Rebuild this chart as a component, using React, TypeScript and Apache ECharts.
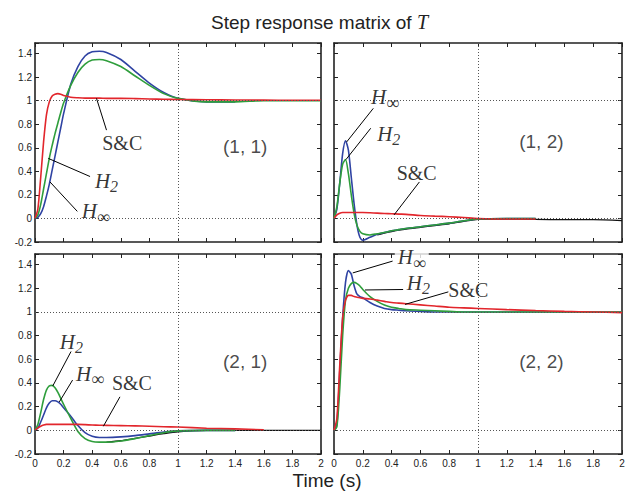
import React, { useEffect, useRef } from 'react';
import * as echarts from 'echarts';

// ---------------- data ----------------
const TIME = [0, 0.02, 0.04, 0.06, 0.08, 0.1, 0.12, 0.14, 0.16, 0.18, 0.2, 0.25, 0.3, 0.35, 0.4, 0.45, 0.5, 0.6, 0.7, 0.8, 0.9, 1.0, 1.2, 1.4, 1.6, 1.8, 2.0];

const X_TICKS = [0, 0.2, 0.4, 0.6, 0.8, 1, 1.2, 1.4, 1.6, 1.8, 2];
const Y_TICKS = [-0.2, 0, 0.2, 0.4, 0.6, 0.8, 1, 1.2, 1.4];

// (1,1)
const T11_HINF = [0, 0.01, 0.04, 0.10, 0.19, 0.29, 0.41, 0.53, 0.65, 0.77, 0.89, 1.14, 1.29, 1.38, 1.415, 1.42, 1.41, 1.35, 1.25, 1.15, 1.07, 1.02, 0.99, 0.99, null, null, null];
const T11_H2 = [0, 0.03, 0.12, 0.25, 0.38, 0.51, 0.62, 0.72, 0.81, 0.90, 0.98, 1.13, 1.24, 1.31, 1.345, 1.35, 1.34, 1.29, 1.21, 1.13, 1.06, 1.02, 0.99, 0.99, 1.0, 1.0, 1.0];
const T11_SC = [0, 0.08, 0.35, 0.65, 0.88, 0.99, 1.04, 1.055, 1.06, 1.055, 1.045, 1.03, 1.025, 1.022, 1.022, 1.022, 1.02, 1.02, 1.018, 1.015, 1.012, 1.01, 1.008, 1.006, 1.005, 1.004, 1.004];

// (1,2)
const T12_HINF = [0, 0.08, 0.3, 0.55, 0.66, 0.58, 0.35, 0.12, -0.06, -0.16, -0.185, -0.16, -0.135, -0.12, -0.105, -0.095, -0.085, -0.07, -0.055, -0.04, -0.02, -0.005, 0, 0, null, null, null];
const T12_H2 = [0, 0.1, 0.3, 0.46, 0.5, 0.38, 0.2, 0.04, -0.06, -0.11, -0.13, -0.14, -0.13, -0.12, -0.105, -0.095, -0.085, -0.07, -0.055, -0.04, -0.02, -0.005, 0, 0, null, null, null];
const T12_SC = [0, 0.03, 0.045, 0.05, 0.05, 0.05, 0.05, 0.05, 0.05, 0.05, 0.05, 0.048, 0.045, 0.042, 0.04, 0.037, 0.035, 0.025, 0.02, 0.015, 0.008, 0.0, -0.005, -0.005, null, null, null];
const T12_REF = [null, null, null, null, null, null, null, null, null, null, null, null, -0.14, -0.125, -0.112, -0.1, -0.09, -0.075, -0.06, -0.045, -0.025, -0.008, -0.005, -0.008, -0.01, -0.01, -0.018];

// (2,1)
const T21_HINF = [0, 0.02, 0.07, 0.13, 0.19, 0.23, 0.25, 0.25, 0.24, 0.22, 0.19, 0.12, 0.04, -0.02, -0.05, -0.06, -0.06, -0.055, -0.045, -0.03, -0.015, -0.005, 0, 0, null, null, null];
const T21_H2 = [0, 0.05, 0.15, 0.26, 0.34, 0.375, 0.38, 0.36, 0.32, 0.27, 0.22, 0.1, -0.01, -0.07, -0.095, -0.1, -0.1, -0.09, -0.07, -0.045, -0.02, -0.005, 0, 0, null, null, null];
const T21_SC = [0, 0.02, 0.035, 0.045, 0.05, 0.05, 0.05, 0.05, 0.05, 0.05, 0.05, 0.05, 0.05, 0.048, 0.045, 0.043, 0.042, 0.04, 0.038, 0.035, 0.03, 0.028, 0.018, 0.012, 0.005, null, null];
const T21_REF = [null, null, null, null, null, null, null, null, null, null, null, null, null, null, null, null, -0.1, -0.088, -0.068, -0.048, -0.028, -0.012, 0, 0, 0, 0, 0];

// (2,2)
const T22_HINF = [0, 0.05, 0.5, 0.95, 1.25, 1.35, 1.32, 1.22, 1.15, 1.13, 1.12, 1.08, 1.05, 1.03, 1.02, 1.015, 1.01, 1.005, 1.0, 1.0, 1.0, 1.0, 1.0, 1.0, 1.0, 1.0, 1.0];
const T22_H2 = [0, 0.03, 0.35, 0.8, 1.1, 1.2, 1.24, 1.25, 1.24, 1.22, 1.19, 1.13, 1.09, 1.06, 1.04, 1.03, 1.02, 1.015, 1.01, 1.005, 1.0, 1.0, 1.0, 1.0, 1.0, 1.0, 1.0];
const T22_SC = [0, 0.1, 0.55, 0.95, 1.1, 1.14, 1.14, 1.13, 1.125, 1.12, 1.115, 1.11, 1.1, 1.09, 1.08, 1.075, 1.07, 1.06, 1.05, 1.04, 1.035, 1.03, 1.02, 1.012, 1.005, 1.0, 0.995];

const PANEL_NAMES = ['(1, 1)', '(1, 2)', '(2, 1)', '(2, 2)'];
const HINF = [T11_HINF, T12_HINF, T21_HINF, T22_HINF];
const H2 = [T11_H2, T12_H2, T21_H2, T22_H2];
const SC = [T11_SC, T12_SC, T21_SC, T22_SC];
const REF = [null, T12_REF, T21_REF, null];

// ---------------- layout ----------------
const GRIDS = [
  { left: 35, top: 43, width: 286, height: 199 },
  { left: 334, top: 43, width: 288, height: 199 },
  { left: 35, top: 254, width: 286, height: 200 },
  { left: 334, top: 254, width: 288, height: 200 },
];
const Y_MAX = 1.49;

// annotation layout in data coordinates: [textT, textV, fromT, fromV, toT, toV]
const ANNOT_POS: Record<string, number[]>[] = [
  { sc: [0.61, 0.64, 0.43, 1.02, 0.5, 0.75], h2: [0.5, 0.32, 0.093, 0.51, 0.385, 0.356], hinf: [0.425, 0.06, 0.105, 0.31, 0.296, 0.06] },
  { sc: [0.574, 0.385, 0.417, 0.03, 0.593, 0.31], h2: [0.38, 0.72, 0.083, 0.5, 0.255, 0.766], hinf: [0.354, 1.03, 0.088, 0.65, 0.273, 0.935] },
  { sc: [0.678, 0.397, 0.478, 0.034, 0.594, 0.283], h2: [0.254, 0.746, 0.124, 0.374, 0.252, 0.666], hinf: [0.385, 0.477, 0.17, 0.24, 0.263, 0.425] },
  { sc: [0.933, 1.19, 0.493, 1.064, 0.794, 1.17], h2: [0.586, 1.245, 0.215, 1.186, 0.48, 1.19], hinf: [0.54, 1.462, 0.13, 1.33, 0.407, 1.43] },
];
const PANEL_LABEL_POS = [[1.47, 0.61], [1.44, 0.65], [1.47, 0.58], [1.44, 0.58]];

const BLUE = '#2f43a3';
const GREEN = '#2f9e3c';
const RED = '#e2262c';
const AX = '#222';
const SANS = 'Liberation Sans, Arial, sans-serif';
const SERIF = 'Liberation Serif, Times New Roman, serif';

const fmt = (v: number) => String(Number(v.toFixed(1)));

function toPairs(arr: (number | null)[]) {
  const out: number[][] = [];
  TIME.forEach((t, i) => {
    const v = arr[i];
    if (v !== null && v !== undefined) out.push([t, v]);
  });
  return out;
}

function buildOption() {
  const xAxis: any[] = [];
  const yAxis: any[] = [];
  const series: any[] = [];

  GRIDS.forEach((_, g) => {
    const baseX = {
      type: 'value',
      gridIndex: g,
      min: X_TICKS[0],
      max: X_TICKS[X_TICKS.length - 1],
      interval: 0.2,
      axisLine: { show: true, onZero: false, lineStyle: { color: AX, width: 1.6 } },
      axisTick: { show: true, inside: true, length: 4, lineStyle: { color: AX, width: 1 } },
      splitLine: { show: false },
    };
    xAxis.push({
      ...baseX,
      position: 'bottom',
      axisLabel: {
        show: g >= 2,
        fontSize: 10,
        color: AX,
        fontFamily: SANS,
        margin: 4,
        formatter: (v: number) => (X_TICKS.some((t) => Math.abs(t - v) < 1e-6) ? fmt(v) : ''),
      },
    });
    xAxis.push({ ...baseX, position: 'top', axisLabel: { show: false } });

    const baseY = {
      type: 'value',
      gridIndex: g,
      min: Y_TICKS[0],
      max: Y_MAX,
      interval: 0.2,
      axisLine: { show: true, onZero: false, lineStyle: { color: AX, width: 1.6 } },
      axisTick: { show: true, inside: true, length: 4, lineStyle: { color: AX, width: 1 } },
      splitLine: { show: false },
    };
    yAxis.push({
      ...baseY,
      position: 'left',
      axisLabel: {
        show: g % 2 === 0,
        fontSize: 10,
        color: AX,
        fontFamily: SANS,
        margin: 3,
        formatter: (v: number) => (Y_TICKS.some((t) => Math.abs(t - v) < 1e-6) ? fmt(v) : ''),
      },
    });
    yAxis.push({ ...baseY, position: 'right', axisLabel: { show: false } });

    const xi = g * 2;
    const yi = g * 2;

    // reference dotted lines
    series.push({
      type: 'line',
      xAxisIndex: xi,
      yAxisIndex: yi,
      data: [],
      silent: true,
      markLine: {
        silent: true,
        symbol: ['none', 'none'],
        label: { show: false },
        lineStyle: { type: [1, 2], color: '#555', width: 1 },
        data: [{ yAxis: 0 }, { yAxis: 1 }, { xAxis: 1 }],
      },
    });

    const ref = REF[g];
    if (ref) {
      series.push({
        type: 'line', xAxisIndex: xi, yAxisIndex: yi, data: toPairs(ref), showSymbol: false,
        smooth: 0.25, lineStyle: { color: '#111', width: 1.3 }, itemStyle: { color: '#111' }, silent: true,
      });
    }
    const curves: [any, string][] = [[HINF[g], BLUE], [H2[g], GREEN], [SC[g], RED]];
    curves.forEach(([arr, col]) => {
      series.push({
        type: 'line', xAxisIndex: xi, yAxisIndex: yi, data: toPairs(arr), showSymbol: false,
        smooth: 0.25, lineStyle: { color: col, width: 1.6 }, itemStyle: { color: col }, silent: true,
      });
    });

    // leader lines
    const ap = ANNOT_POS[g];
    series.push({
      type: 'lines',
      coordinateSystem: 'cartesian2d',
      xAxisIndex: xi,
      yAxisIndex: yi,
      silent: true,
      symbol: ['none', 'none'],
      lineStyle: { color: '#000', width: 1, opacity: 1, curveness: 0 },
      data: ['sc', 'h2', 'hinf'].map((k) => ({ coords: [[ap[k][2], ap[k][3]], [ap[k][4], ap[k][5]]] })),
      z: 5,
    });

    // texts
    const textFor: Record<string, string> = { sc: '{n|S&C}', h2: '{h|H}{s|2}', hinf: '{h|H}{i|∞}' };
    const labelData = ['sc', 'h2', 'hinf'].map((k) => ({
      value: [ap[k][0], ap[k][1]],
      label: {
        formatter: textFor[k],
        backgroundColor: g === 3 && k === 'hinf' ? '#fff' : 'transparent',
        padding: g === 3 && k === 'hinf' ? [0, 3, 0, 3] : 0,
      },
    }));
    labelData.push({
      value: PANEL_LABEL_POS[g],
      label: { formatter: '{p|' + PANEL_NAMES[g] + '}', backgroundColor: 'transparent', padding: 0 },
    });
    series.push({
      type: 'scatter',
      xAxisIndex: xi,
      yAxisIndex: yi,
      symbolSize: 1,
      itemStyle: { color: 'rgba(0,0,0,0)' },
      silent: true,
      z: 6,
      label: {
        show: true,
        position: 'inside',
        rich: {
          h: { fontFamily: SERIF, fontStyle: 'italic', fontSize: 21, lineHeight: 20, color: '#000' },
          s: { fontFamily: SERIF, fontStyle: 'italic', fontSize: 16, lineHeight: 11, padding: [11, 0, 0, 0], color: '#000' },
          i: { fontFamily: SERIF, fontSize: 18, lineHeight: 11, padding: [11, 0, 0, 0], color: '#000' },
          n: { fontFamily: SERIF, fontSize: 20, lineHeight: 22, color: '#000' },
          p: { fontFamily: SANS, fontSize: 19, lineHeight: 22, color: '#1a1a1a' },
        },
      },
      data: labelData,
    });
  });

  return {
    animation: false,
    backgroundColor: '#fff',
    title: {
      text: 'Step response matrix of {i|T}',
      left: 206,
      top: 7,
      textStyle: {
        fontSize: 19,
        fontWeight: 'normal',
        fontFamily: SANS,
        color: '#222',
        rich: { i: { fontFamily: SERIF, fontStyle: 'italic', fontSize: 20, color: '#222' } },
      },
    },
    grid: GRIDS.map((g) => ({ ...g, containLabel: false })),
    xAxis,
    yAxis,
    series,
    graphic: [
      {
        type: 'text',
        x: 327,
        y: 480,
        style: { text: 'Time (s)', font: '19px ' + SANS, fill: '#222', align: 'center', verticalAlign: 'middle' },
      },
    ],
  };
}

export default function App() {
  const ref = useRef<HTMLDivElement>(null);
  useEffect(() => {
    const chart = echarts.init(ref.current!, null, { renderer: 'svg' });
    chart.setOption(buildOption() as any);
    return () => chart.dispose();
  }, []);
  return <div ref={ref} style={{ position: 'absolute', left: 0, top: 0, width: 635, height: 492 }} />;
}
